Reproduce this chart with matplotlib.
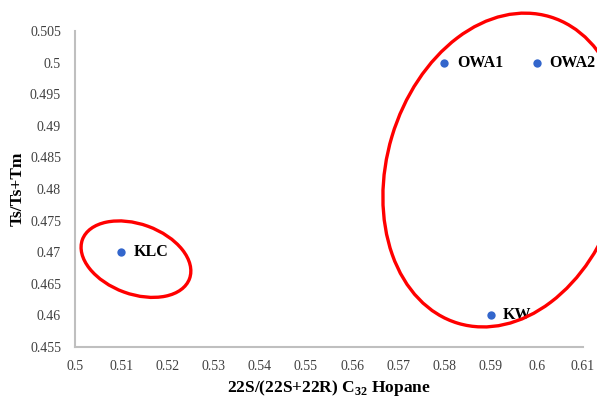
import matplotlib
matplotlib.use("Agg")
import matplotlib.pyplot as plt
from matplotlib.patches import Ellipse
from matplotlib import transforms

plt.rcParams['font.family'] = ['Liberation Serif', 'DejaVu Serif']
plt.rcParams['mathtext.fontset'] = 'custom'
plt.rcParams['mathtext.rm'] = 'Liberation Serif'
plt.rcParams['mathtext.bf'] = 'Liberation Serif:bold'

# Data
samples = ['KLC', 'OWA1', 'OWA2', 'KW']
hopane_ratio = [0.51, 0.58, 0.60, 0.59]
ts_ratio = [0.47, 0.50, 0.50, 0.46]

x_ticks = [0.5, 0.51, 0.52, 0.53, 0.54, 0.55, 0.56, 0.57, 0.58, 0.59, 0.6, 0.61]
x_tick_labels = ['0.5', '0.51', '0.52', '0.53', '0.54', '0.55', '0.56', '0.57', '0.58', '0.59', '0.6', '0.61']
y_ticks = [0.455, 0.46, 0.465, 0.47, 0.475, 0.48, 0.485, 0.49, 0.495, 0.5, 0.505]
y_tick_labels = ['0.455', '0.46', '0.465', '0.47', '0.475', '0.48', '0.485', '0.49', '0.495', '0.5', '0.505']

fig = plt.figure(figsize=(5.97, 3.98), dpi=100)
ax = fig.add_axes([75/597, 51/398, (583-75)/597, (347-31)/398])

ax.scatter(hopane_ratio, ts_ratio, s=36, color='#3366CC', zorder=3, linewidths=0)
for name, x, y in zip(samples, hopane_ratio, ts_ratio):
    ax.annotate(name, (x, y), xytext=(9, 0), textcoords='offset points',
                va='center', ha='left', fontsize=11.5, fontweight='bold', zorder=4)

ax.set_xlim(0.5, 0.61)
ax.set_ylim(0.455, 0.505)
ax.set_xticks(x_ticks)
ax.set_xticklabels(x_tick_labels)
ax.set_yticks(y_ticks)
ax.set_yticklabels(y_tick_labels)
ax.tick_params(axis='both', length=0, labelsize=10, colors='#404040')
ax.tick_params(axis='x', pad=9)
ax.tick_params(axis='y', pad=10)
for s in ['top', 'right']:
    ax.spines[s].set_visible(False)
for s in ['left', 'bottom']:
    ax.spines[s].set_color('#BFBFBF')
    ax.spines[s].set_linewidth(1.5)

ax.set_xlabel(r'22S/(22S+22R) C$_{\mathbf{32}}$ Hopane', fontsize=12.5, fontweight='bold', labelpad=4)
ax.set_ylabel('Ts/Ts+Tm', fontsize=12.5, fontweight='bold', labelpad=3)

# Red ellipses (annotation), sized in pixels, anchored in data coordinates
def pixel_ellipse(cx, cy, w, h, angle):
    tr = transforms.IdentityTransform() + transforms.ScaledTranslation(cx, cy, ax.transData)
    e = Ellipse((0, 0), w, h, angle=angle, fill=False, edgecolor='#FF0000',
                linewidth=2.4, transform=tr, clip_on=False, zorder=5)
    fig.add_artist(e)

pixel_ellipse(0.5132, 0.4689, 114, 70, -20)
pixel_ellipse(0.5929, 0.4830, 234, 320, -16.7)

fig.savefig('out.png', dpi=100)
